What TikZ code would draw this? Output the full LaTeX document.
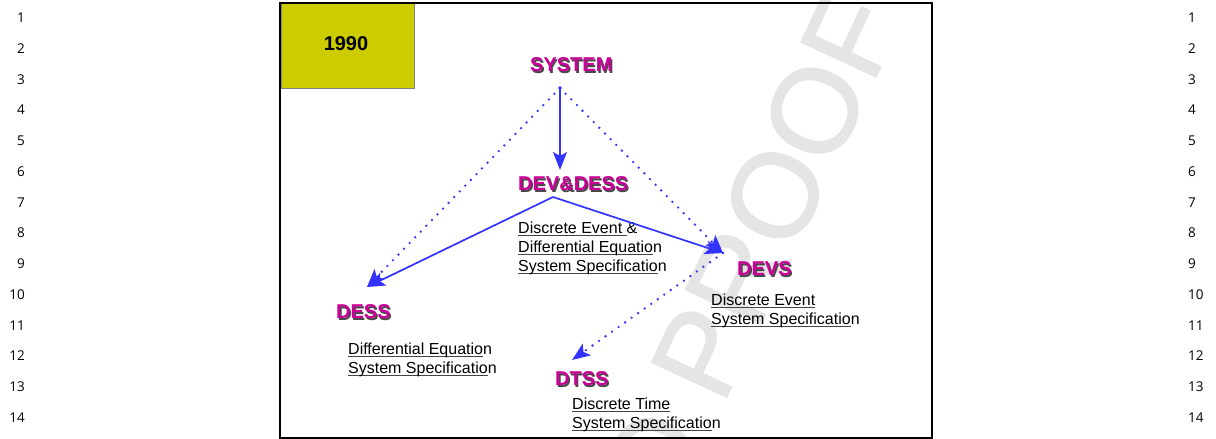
\documentclass[tikz,border=0pt]{standalone}
\usepackage{fontspec}
\setmainfont{Liberation Sans}
\newfontfamily\numfont{Open Sans}
\newfontfamily\wmfont[FakeBold=1.3]{Liberation Sans}
\usetikzlibrary{arrows.meta}
\definecolor{mag}{HTML}{CC0099}
\definecolor{shad}{HTML}{4A4A4A}
\definecolor{blu}{HTML}{3333FF}
\definecolor{olivebox}{HTML}{CCCC00}
\definecolor{wm}{HTML}{E5E5E5}
\definecolor{ulg}{HTML}{444444}
\newcommand\myul[1]{\setbox0\hbox{#1}\rlap{\textcolor{ulg}{\rule[-2.4bp]{\wd0}{1.1bp}}}\box0}
\newcommand\shd[1]{\rlap{\kern1.3bp\raisebox{-1.3bp}{\textcolor{shad}{#1}}}\textcolor{mag}{#1}}
\begin{document}
\begin{tikzpicture}[x=1bp,y=-1bp,
  lbl/.style={font=\fontsize{20bp}{24bp}\selectfont\bfseries, inner sep=0, anchor=base west},
  desc/.style={font=\fontsize{16bp}{19bp}\selectfont, inner sep=0, anchor=base west},
  lnum/.style={font=\numfont\fontsize{13.5bp}{15bp}\selectfont, inner sep=0, text=black},
  sol/.style={draw=blu, line width=1.7bp, -{Stealth[length=18bp,width=14bp,inset=4bp]}},
  dotl/.style={draw=blu, line width=2.6bp, line cap=round, dash pattern=on 0bp off 8bp, -{Stealth[length=18bp,width=14bp,inset=4bp]}}]
\useasboundingbox (0,0) rectangle (1216,439);
\fill[white] (0,0) rectangle (1216,439);
% line numbers
\foreach \i in {1,...,14} {
  \node[lnum, anchor=base east] (l\i) at (25, {22.5+30.77*(\i-1)}) {\i};
  \node[lnum, anchor=base west] (r\i) at (1188, {22.5+30.77*(\i-1)}) {\i};
}
% watermark
\begin{scope}
\clip (0,0) rectangle (1216,439);
\node[font=\wmfont\fontsize{120bp}{120bp}\selectfont, text=wm, rotate=65, inner sep=0, anchor=base east] (wmark) at (903,19) {UNCORRECTED PROOF};
\end{scope}
% year box
\node[fill=olivebox, draw=black!50, line width=0.8bp, minimum width=133bp, minimum height=85bp, anchor=north west, inner sep=0] (yearbox) at (281,3) {};
\node[font=\fontsize{20bp}{24bp}\selectfont\bfseries, inner sep=0, anchor=base] (year) at (346,51) {1990};
% frame
\draw[line width=2bp] (280,3) rectangle (931.5,438);
% labels
\node[lbl] (system) at (530,72) {\shd{SYSTEM}};
\node[lbl] (devdess) at (518,191) {\shd{DEV\&DESS}};
\node[lbl] (dess) at (336,319) {\shd{DESS}};
\node[lbl] (devs) at (737,276) {\shd{DEVS}};
\node[lbl] (dtss) at (555,386) {\shd{DTSS}};
% descriptions
\node[desc] (dd1) at (518,234) {\myul{Discrete Event }\&};
\node[desc] (dd2) at (518,253) {\myul{Differential Equatio}n};
\node[desc] (dd3) at (518,272) {\myul{System Specificatio}n};
\node[desc] (ds1) at (348,355) {\myul{Differential Equatio}n};
\node[desc] (ds2) at (348,374) {\myul{System Specificatio}n};
\node[desc] (dv1) at (711,306) {\myul{Discrete Event}};
\node[desc] (dv2) at (711,325) {\myul{System Specificatio}n};
\node[desc] (dt1) at (572,410) {\myul{Discrete Time}};
\node[desc] (dt2) at (572,429) {\myul{System Specificatio}n};
% connector points
\coordinate (sysP) at (560,88);
\coordinate (ddTop) at (560,170);
\coordinate (ddP) at (553,197);
\coordinate (dessP) at (367,287);
\coordinate (devsP) at (723,253);
\coordinate (dtssP) at (572,360);
% connectors
\fill[blu] (sysP) circle (1.8bp);
\draw[sol] (sysP) -- (ddTop);
\draw[dotl] (sysP) -- (dessP);
\draw[dotl] (sysP) -- (devsP);
\draw[sol] (ddP) -- (dessP);
\draw[sol] (ddP) -- (devsP);
\draw[dotl] (devsP) -- (dtssP);
\end{tikzpicture}
\end{document}
